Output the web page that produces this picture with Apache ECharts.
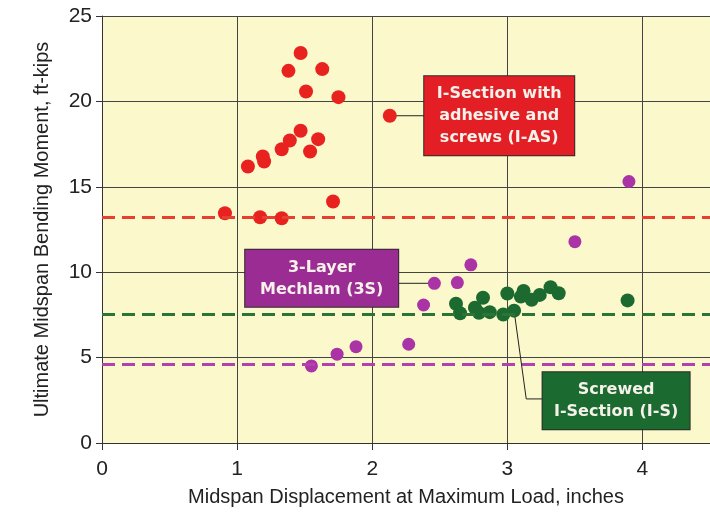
<!DOCTYPE html>
<html>
<head>
<meta charset="utf-8">
<script src="https://cdn.jsdelivr.net/npm/echarts@6/dist/echarts.min.js"></script>
<style>
html,body{margin:0;padding:0;background:#fff;}
#chart{width:710px;height:514px;}
</style>
</head>
<body>
<div id="chart"></div>
<script>
// I-Section with adhesive and screws (I-AS)
var iasPoints = [
  [0.91,13.45],[1.08,16.19],[1.19,16.77],[1.20,16.48],[1.17,13.22],[1.33,17.20],
  [1.33,13.16],[1.39,17.71],[1.38,21.79],[1.47,18.28],[1.47,22.83],[1.51,20.58],
  [1.54,17.07],[1.60,17.79],[1.63,21.89],[1.71,14.14],[1.75,20.25],[2.13,19.16]
];
// 3-Layer Mechlam (3S)
var mechPoints = [
  [1.55,4.51],[1.74,5.20],[1.88,5.64],[2.27,5.78],[2.38,8.08],[2.46,9.35],
  [2.63,9.39],[2.73,10.43],[3.50,11.79],[3.90,15.31]
];
// Screwed I-Section (I-S)
var isPoints = [
  [2.62,8.15],[2.65,7.60],[2.76,7.92],[2.79,7.62],[2.82,8.50],[2.87,7.66],
  [2.97,7.52],[3.00,8.75],[3.05,7.75],[3.12,8.90],[3.10,8.57],[3.18,8.38],
  [3.24,8.67],[3.32,9.12],[3.38,8.77],[3.89,8.35]
];
// reference (dashed) levels
var iasLevel = 13.22;
var isLevel = 7.54;
var mechLevel = 4.63;

var xTicks = {min:0, max:4.5, interval:1};
var yTicks = {min:0, max:25, interval:5};

// annotation anchors (data units)
var iasBox = [2.94,19.16];
var mechBox = [1.626,9.64];
var isBox = [3.805,2.48];
var iasLeader = [[2.13,19.16],[2.39,19.16]];
var mechLeader = [[2.19,9.35],[2.46,9.35]];
var isLeader = [[3.05,7.75],[3.14,2.58],[3.26,2.58]];

var RED='#E8231F', PURPLE='#AA33A6', GREEN='#1C6A2F';

function box(pt, text, bg, w){
  return {
    type:'scatter', data:[pt], symbolSize:0, silent:true, z:10,
    itemStyle:{opacity:1},
    label:{show:true, position:'inside', formatter:text, color:'#F6F1EA',
      fontFamily:'DejaVu Sans', fontWeight:'bold', fontSize:16, lineHeight:22,
      backgroundColor:bg, borderColor:'#2a2a2a', borderWidth:1,
      width:w, align:'center', padding:[7,0,6,0], opacity:1},
    emphasis:{disabled:true}
  };
}
function leader(pts){
  return {type:'line', data:pts, symbol:'none', silent:true, z:1,
    lineStyle:{color:'#222', width:1}, emphasis:{disabled:true}};
}
function dash(v,c){
  return {silent:true, symbol:'none', label:{show:false},
    lineStyle:{color:c, type:[13,7], width:3, opacity:1}, emphasis:{disabled:true},
    data:[{yAxis:v}]};
}

var chart = echarts.init(document.getElementById('chart'));
chart.setOption({
  animation:false,
  backgroundColor:'#ffffff',
  grid:{left:102, right:0, top:16, bottom:71, show:true, backgroundColor:'#FBF8CB', borderWidth:0, outerBoundsMode:'none'},
  xAxis:{type:'value', min:xTicks.min, max:xTicks.max, interval:xTicks.interval,
    name:'Midspan Displacement at Maximum Load, inches', nameLocation:'middle', nameGap:44,
    nameTextStyle:{fontFamily:'Liberation Sans', fontSize:20, color:'#222'},
    axisLine:{show:true, lineStyle:{color:'#333', width:1}},
    axisTick:{show:true, length:7, lineStyle:{color:'#333'}},
    axisLabel:{fontFamily:'Liberation Sans', fontSize:21, color:'#222', margin:16, showMaxLabel:false},
    splitLine:{show:true, lineStyle:{color:'#444', width:1}}
  },
  yAxis:{type:'value', min:yTicks.min, max:yTicks.max, interval:yTicks.interval,
    name:'Ultimate Midspan Bending Moment, ft-kips', nameLocation:'middle', nameGap:50,
    nameTextStyle:{fontFamily:'Liberation Sans', fontSize:20, color:'#222'},
    axisLine:{show:true, lineStyle:{color:'#333', width:1}},
    axisTick:{show:true, length:6, lineStyle:{color:'#333'}},
    axisLabel:{fontFamily:'Liberation Sans', fontSize:21, color:'#222', margin:10},
    splitLine:{show:true, lineStyle:{color:'#444', width:1}}
  },
  series:[
    leader(iasLeader), leader(mechLeader), leader(isLeader),
    {type:'scatter', name:'I-AS', data:iasPoints, symbolSize:14, z:3,
      itemStyle:{color:RED, opacity:1}, markLine:dash(iasLevel,'#E8402E')},
    {type:'scatter', name:'I-S', data:isPoints, symbolSize:14, z:3,
      itemStyle:{color:GREEN, opacity:1}, markLine:dash(isLevel,'#2A7437')},
    {type:'scatter', name:'3S', data:mechPoints, symbolSize:13, z:3,
      itemStyle:{color:PURPLE, opacity:1}, markLine:dash(mechLevel,'#B43FB0')},
    box(iasBox, 'I-Section with\nadhesive and\nscrews (I-AS)', '#E31E24', 150),
    box(mechBox, '3-Layer\nMechlam (3S)', '#9B2C93', 153),
    box(isBox, 'Screwed\nI-Section (I-S)', '#1B6A30', 147)
  ]
});
</script>
</body>
</html>
